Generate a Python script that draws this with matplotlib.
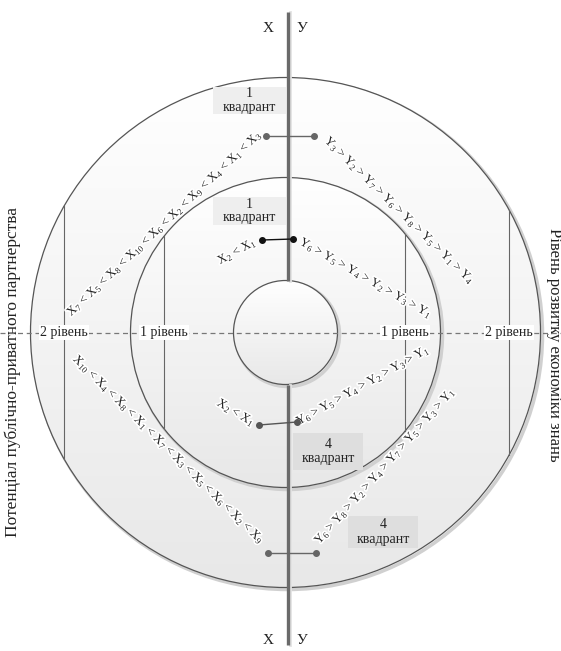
import numpy as np
import matplotlib.pyplot as plt
import matplotlib.patheffects as pe
from matplotlib.patches import Circle, Rectangle
from matplotlib.colors import LinearSegmentedColormap

plt.rcParams['font.family'] = ['Liberation Serif', 'DejaVu Serif']
plt.rcParams['mathtext.fontset'] = 'custom'
plt.rcParams['mathtext.rm'] = 'Liberation Serif'
plt.rcParams['mathtext.it'] = 'Liberation Serif:italic'

# factor rankings along each arc
x_outer_top = [7, 5, 8, 10, 6, 2, 9, 4, 1, 3]
y_outer_top = [3, 2, 7, 6, 8, 5, 1, 4]
x_inner_top = [2, 1]
y_inner_top = [6, 5, 4, 2, 3, 1]
x_inner_bottom = [2, 1]
y_inner_bottom = [6, 5, 4, 2, 3, 1]
x_outer_bottom = [10, 4, 8, 1, 7, 3, 5, 6, 2, 9]
y_outer_bottom = [6, 8, 2, 4, 7, 5, 3, 1]

level_labels = ["2 рівень", "1 рівень", "1 рівень", "2 рівень"]
quadrant_labels = ["1\nквадрант", "1\nквадрант", "4\nквадрант", "4\nквадрант"]
axis_names = ["Х", "У"]
left_title = "Потенціал публічно-приватного партнерства"
right_title = "Рівень розвитку економіки знань"


def chain(letter, idx, sign):
    return f" {sign} ".join(f"{letter}$_{{{i}}}$" for i in idx)


def along(ax, text, p0, p1, size=9):
    (x0, y0), (x1, y1) = p0, p1
    ang = np.degrees(np.arctan2(-(y1 - y0), x1 - x0))
    ax.text((x0 + x1) / 2, (y0 + y1) / 2, text, rotation=ang,
            rotation_mode="anchor", ha="center", va="center",
            fontsize=size, color="#222222", zorder=6,
            path_effects=[pe.withStroke(linewidth=2.5, foreground="white")])


def main():
    fig = plt.figure(figsize=(5.61, 6.51), dpi=100)
    ax = fig.add_axes([0, 0, 1, 1])

    cx, cy = 285.5, 332.5
    r_out, r_mid, r_in = 255, 155, 52

    cmap = LinearSegmentedColormap.from_list("g", ["#ffffff", "#e8e8e8"])
    grad = np.linspace(0, 1, 256).reshape(-1, 1)

    # circles: shadow, gradient fill, outline
    for i, r in enumerate([r_out, r_mid, r_in]):
        z = 1 + i
        shadow = Circle((cx + 2, cy + 2), r, fc="none", ec="#d0d0d0",
                        lw=2.5, zorder=z)
        ax.add_patch(shadow)
        clip = Circle((cx, cy), r, fc="none", ec="none")
        ax.add_patch(clip)
        im = ax.imshow(grad, extent=(cx - r, cx + r, cy + r, cy - r),
                       cmap=cmap, aspect="auto", zorder=z + 0.1)
        im.set_clip_path(clip)
        ax.add_patch(Circle((cx, cy), r, fc="none", ec="#555555",
                            lw=0.9, zorder=z + 0.2))

    # level boundaries
    for xv, r in [(64, r_out), (509, r_out), (164, r_mid), (405, r_mid)]:
        dy = np.sqrt(r**2 - (xv - cx) ** 2)
        ax.plot([xv, xv], [cy - dy, cy + dy], color="#666666", lw=0.8, zorder=5)

    # horizontal dashed axis
    ax.plot([0, 561], [cy, cy], color="#777777", lw=0.9,
            dashes=(4, 3), zorder=5)
    for xl, lab in zip([64, 164, 405, 509], level_labels):
        ax.text(xl, cy, lab, ha="center", va="center", fontsize=10,
                color="#222222", zorder=7,
                bbox=dict(boxstyle="square,pad=0.1", fc="white", ec="none"))

    # vertical axis
    xa = 288
    for y0, y1 in [(12, cy - r_in), (cy + r_in, 645)]:
        ax.plot([xa + 2.5, xa + 2.5], [y0, y1], color="#e2e2e2", lw=2, zorder=7)
        ax.plot([xa, xa], [y0, y1], color="#6a6a6a", lw=2.4,
                solid_capstyle="butt", zorder=8)
    for yt in [29, 641]:
        ax.text(xa - 20, yt, axis_names[0], ha="center", va="center",
                fontsize=11, color="#222222")
        ax.text(xa + 14, yt, axis_names[1], ha="center", va="center",
                fontsize=11, color="#222222")

    # quadrant boxes
    boxes = [(213, 87, 73, 27), (213, 197, 73, 28),
             (293, 433, 70, 37), (348, 516, 70, 32)]
    fills = ["#eeeeee", "#eeeeee", "#dedede", "#dedede"]
    for (bx, by, bw, bh), fc, lab in zip(boxes, fills, quadrant_labels):
        ax.add_patch(Rectangle((bx, by), bw, bh, fc=fc, ec="none", zorder=6))
        ax.text(bx + bw / 2, by + bh / 2, lab, ha="center", va="center",
                fontsize=10, color="#222222", linespacing=1.1, zorder=7)

    # connectors
    conns = [((266, 136), (314, 136), "#666666"),
             ((262, 240), (293, 239), "#111111"),
             ((259, 425), (297, 422), "#555555"),
             ((268, 553), (316, 553), "#666666")]
    for (x0, y0), (x1, y1), c in conns:
        ax.plot([x0, x1], [y0, y1], color=c, lw=1.0, zorder=9,
                marker="o", ms=4, mfc=c, mec=c)

    # ranking chains
    along(ax, chain("X", x_outer_top, "<"), (67, 316), (262, 131))
    along(ax, chain("Y", y_outer_top, ">"), (325, 138), (474, 284))
    along(ax, chain("X", x_inner_top, "<"), (216, 263), (258, 240))
    along(ax, chain("Y", y_inner_top, ">"), (300, 241), (432, 316))
    along(ax, chain("X", x_inner_bottom, "<"), (216, 401), (256, 425))
    along(ax, chain("Y", y_inner_bottom, ">"), (296, 423), (430, 348))
    along(ax, chain("X", x_outer_bottom, "<"), (72, 355), (265, 545))
    along(ax, chain("Y", y_outer_bottom, ">"), (312, 548), (458, 384))

    # side titles
    ax.text(13, 372, left_title, rotation=90, ha="center", va="center",
            fontsize=12.5, color="#222222")
    ax.text(554, 345, right_title, rotation=270, ha="center", va="center",
            fontsize=12, color="#222222")

    ax.set_xlim(0, 561)
    ax.set_ylim(651, 0)
    ax.axis("off")
    fig.savefig("out.png", dpi=100, facecolor="white")


if __name__ == "__main__":
    main()
